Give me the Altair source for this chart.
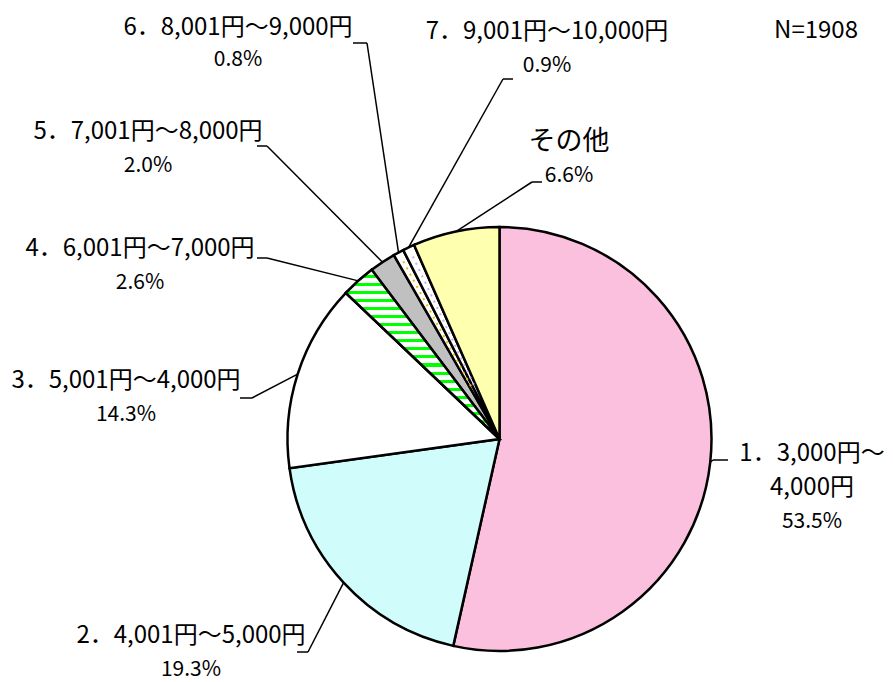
import altair as alt
import pandas as pd

# ---------------- data ----------------
labels = [
    "1．3,000円～\n4,000円",
    "2．4,001円～5,000円",
    "3．5,001円～4,000円",
    "4．6,001円～7,000円",
    "5．7,001円～8,000円",
    "6．8,001円～9,000円",
    "7．9,001円～10,000円",
    "その他",
]
values = [53.5, 19.3, 14.3, 2.6, 2.0, 0.8, 0.9, 6.6]
pct_labels = ["53.5%", "19.3%", "14.3%", "2.6%", "2.0%", "0.8%", "0.9%", "6.6%"]
n_label = "N=1908"

# ---------------- styles / layout ----------------
fills = ["#FAC0DD", "#D0FCFC", "#FFFFFF", "#FFFFFF", "#C0C0C0", "#FFFFFF", "#FFFFFF", "#FFFFB0"]
OFF = 8
CX, CY, R = 499.5 - OFF, 439 - OFF, 212
# label anchor (center of first text line), in page pixels
label_xy = [(812, 454), (191, 636), (126, 381), (140, 249), (148, 132), (238, 28), (547, 32), (569, 142)]
# leader elbow point and tail x, in page pixels
elbow_xy = [(713, 460), (308, 652), (252, 398), (267, 258), (267, 146), (367, 43), (503, 79), (532, 182)]
tail_x = [728, 297, 240, 257, 257, 353, 513, 542]
LINE_H = 34
FONT = "Noto Sans CJK JP"

df = pd.DataFrame({
    "order": list(range(len(values))),
    "label": labels,
    "value": values,
    "fill": fills,
    "elx": [e[0] - OFF for e in elbow_xy],
    "ely": [e[1] - OFF for e in elbow_xy],
    "tx": [t - OFF for t in tail_x],
})

rows = []
for i, (lab, pct) in enumerate(zip(labels, pct_labels)):
    lx, ly = label_xy[i]
    lines = lab.split("\n")
    size = 27 if lab == "その他" else 24
    for j, ln in enumerate(lines):
        rows.append({"x": lx - OFF, "y": ly - OFF + j * LINE_H, "text": ln, "size": size})
    rows.append({"x": lx - OFF, "y": ly - OFF + len(lines) * LINE_H - (2 if i == 5 else 0), "text": pct, "size": 21})
rows.append({"x": 816 - OFF, "y": 31 - OFF, "text": n_label, "size": 24})
text_df = pd.DataFrame(rows)

base = (
    alt.Chart(df)
    .transform_window(cum="sum(value)", sort=[alt.SortField("order")])
    .transform_calculate(
        t0="(datum.cum - datum.value) / 100 * 2 * PI",
        t1="datum.cum / 100 * 2 * PI",
        tm="(datum.cum - datum.value / 2) / 100 * 2 * PI",
    )
)

theta_enc = dict(
    theta=alt.Theta("t0:Q", scale=None),
    theta2="t1:Q",
    x=alt.value(CX),
    y=alt.value(CY),
)

arcs = base.mark_arc(radius=R, stroke="black", strokeWidth=2.5).encode(
    fill=alt.Fill("fill:N", scale=None), **theta_enc
)

n_str = 21
stops = []
for i in range(n_str):
    stops += [
        alt.GradientStop(offset=i / n_str, color="#FFFFFF"),
        alt.GradientStop(offset=(i + 0.62) / n_str, color="#FFFFFF"),
        alt.GradientStop(offset=(i + 0.62) / n_str, color="#00FF00"),
        alt.GradientStop(offset=(i + 1) / n_str, color="#00FF00"),
    ]
stripes = (
    base.transform_filter("datum.order == 3")
    .mark_arc(
        radius=R, stroke="black", strokeWidth=2.5,
        fill=alt.LinearGradient(gradient="linear", x1=0, y1=0, x2=0, y2=1, stops=stops),
    )
    .encode(**theta_enc)
)

dots = (
    base.transform_filter("datum.order == 5 || datum.order == 6")
    .transform_calculate(
        ax=f"{CX} + 60 * sin(datum.tm)",
        ay=f"{CY} - 60 * cos(datum.tm)",
        bx=f"{CX} + {R - 6} * sin(datum.tm)",
        by=f"{CY} - {R - 6} * cos(datum.tm)",
        dcol="datum.order == 5 ? '#F5B800' : '#C9AEF0'",
    )
    .mark_rule(strokeWidth=2, strokeDash=[2, 5])
    .encode(
        x=alt.X("ax:Q", scale=None), y=alt.Y("ay:Q", scale=None),
        x2="bx:Q", y2="by:Q",
        color=alt.Color("dcol:N", scale=None),
    )
)

diag = (
    base.transform_calculate(
        sx=f"{CX} + {R} * sin(datum.tm)",
        sy=f"{CY} - {R} * cos(datum.tm)",
    )
    .mark_rule(color="black", strokeWidth=1.5)
    .encode(x=alt.X("sx:Q", scale=None), y=alt.Y("sy:Q", scale=None), x2="elx:Q", y2="ely:Q")
)

horiz = (
    alt.Chart(df)
    .mark_rule(color="black", strokeWidth=1.5)
    .encode(x=alt.X("elx:Q", scale=None), y=alt.Y("ely:Q", scale=None), x2="tx:Q", y2="ely:Q")
)

texts = (
    alt.Chart(text_df)
    .mark_text(font=FONT, align="center", baseline="middle", color="black")
    .encode(
        x=alt.X("x:Q", scale=None),
        y=alt.Y("y:Q", scale=None),
        text="text:N",
        size=alt.Size("size:Q", scale=None),
    )
)

chart = (
    alt.layer(arcs, stripes, dots, diag, horiz, texts)
    .properties(width=877, height=674, padding=0, autosize=alt.AutoSizeParams(type="none"))
    .configure_view(stroke=None)
)

chart.save("out.html", embed_options={"renderer": "svg", "actions": False})
